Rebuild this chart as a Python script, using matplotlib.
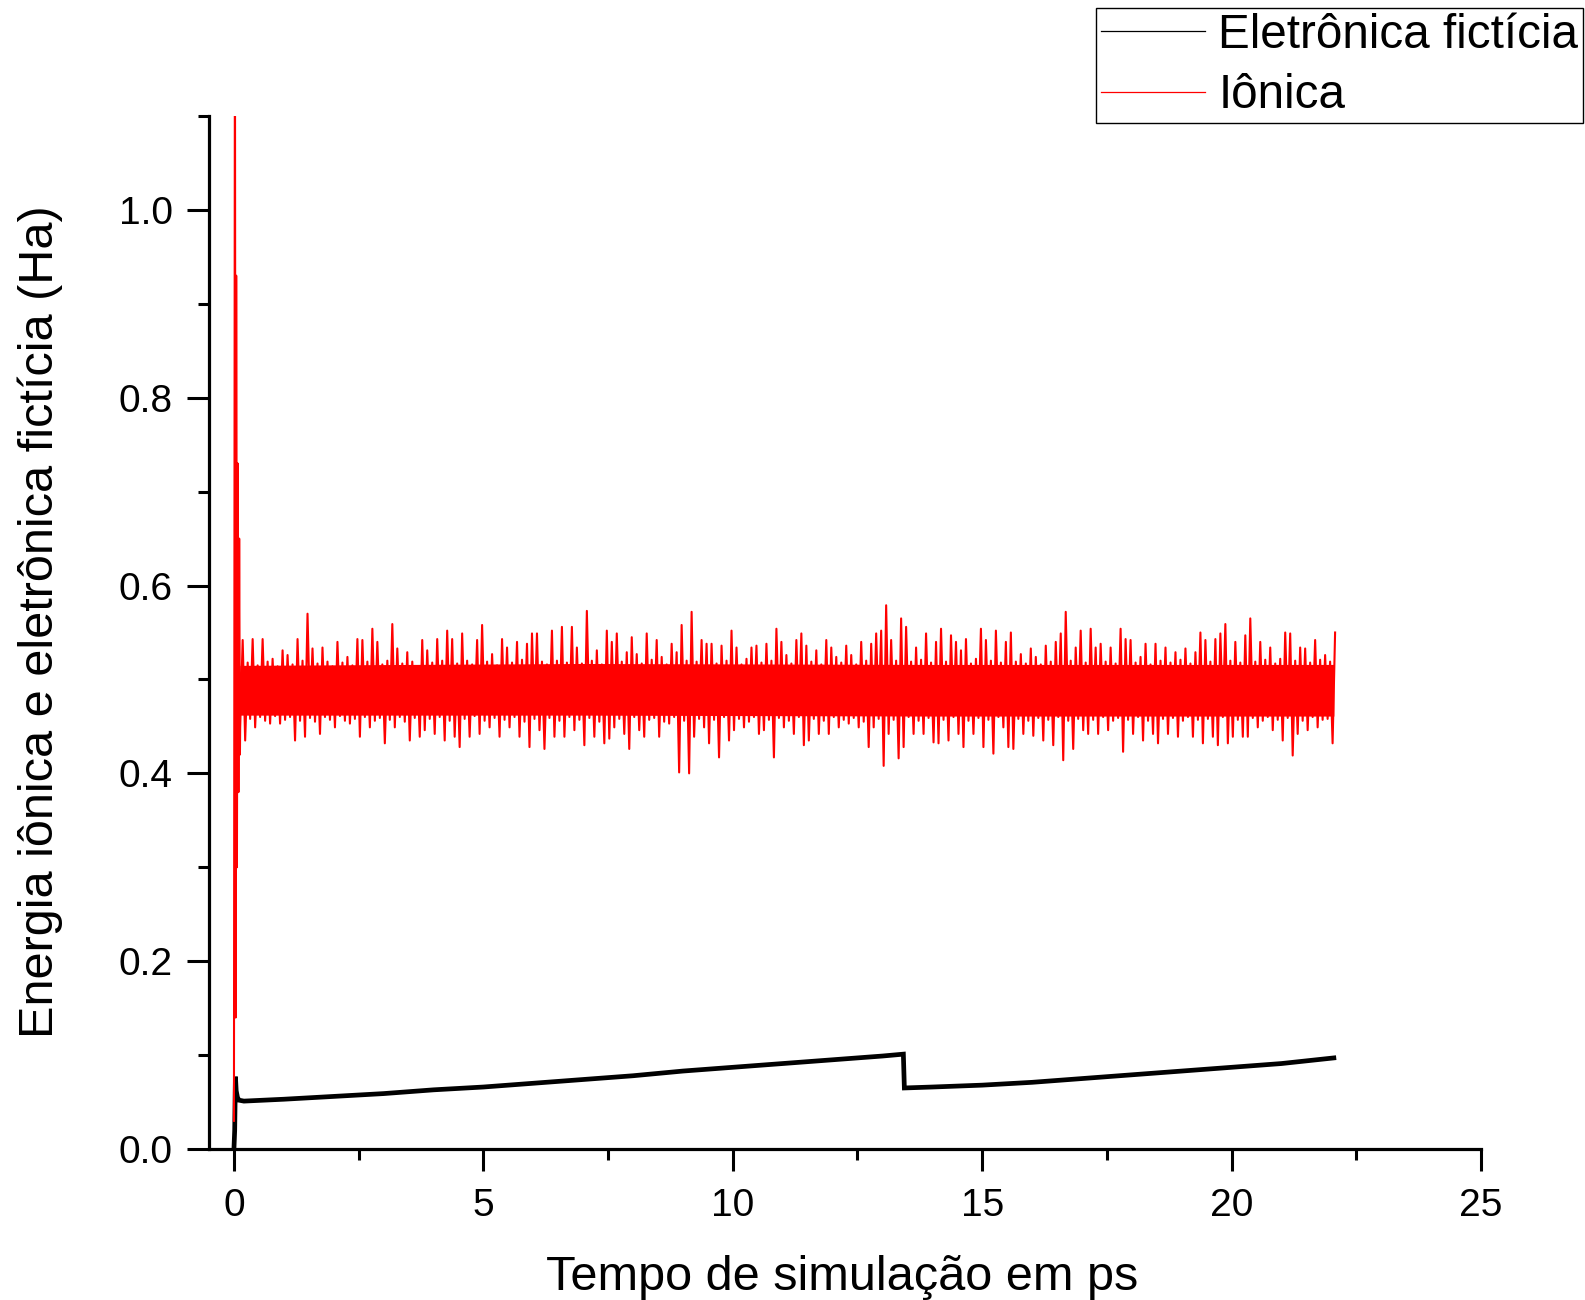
import numpy as np
import matplotlib
matplotlib.use("Agg")
import matplotlib.pyplot as plt
from matplotlib.ticker import MultipleLocator, FormatStrFormatter

# ---------------- data ----------------
# Electronic (fictitious) kinetic energy, key points (ps, Ha)
elec_t = [0.0, 0.015, 0.03, 0.045, 0.07, 0.1, 0.2, 1, 2, 3, 4, 5, 6, 7, 8, 9, 10,
          11, 12, 13, 13.42, 13.44, 14, 15, 16, 17, 18, 19, 20, 21, 22.05]
elec_e = [0.0, 0.02, 0.077, 0.062, 0.055, 0.052, 0.051, 0.053, 0.056, 0.059, 0.063,
          0.066, 0.070, 0.074, 0.078, 0.083, 0.087, 0.091, 0.095, 0.099, 0.101,
          0.065, 0.066, 0.068, 0.071, 0.075, 0.079, 0.083, 0.087, 0.091, 0.097]

# Ionic energy: initial transient
ion_start_t = [0.0, 0.02, 0.035, 0.045, 0.06, 0.075, 0.09, 0.105, 0.12]
ion_start_e = [0.03, 1.25, 0.14, 0.93, 0.30, 0.73, 0.38, 0.65, 0.42]

# Ionic energy: per 0.1 ps bin (from 0.15 ps to 22.05 ps), upper and lower excursions
ion_bin_start, ion_bin_step, ion_nbins = 0.15, 0.1, 220
ion_hi = [
    0.542, 0.518, 0.543, 0.515, 0.543, 0.519, 0.522, 0.514, 0.531, 0.526,
    0.516, 0.543, 0.520, 0.570, 0.533, 0.517, 0.534, 0.519, 0.514, 0.540,
    0.518, 0.524, 0.515, 0.543, 0.542, 0.519, 0.554, 0.540, 0.516, 0.520,
    0.559, 0.533, 0.517, 0.529, 0.519, 0.514, 0.542, 0.531, 0.518, 0.543,
    0.520, 0.552, 0.543, 0.517, 0.549, 0.520, 0.516, 0.542, 0.558, 0.519,
    0.527, 0.515, 0.543, 0.534, 0.518, 0.540, 0.521, 0.538, 0.549, 0.549,
    0.519, 0.516, 0.552, 0.520, 0.556, 0.518, 0.556, 0.534, 0.517, 0.573,
    0.520, 0.531, 0.516, 0.552, 0.540, 0.549, 0.519, 0.529, 0.545, 0.527,
    0.517, 0.549, 0.521, 0.542, 0.524, 0.516, 0.538, 0.529, 0.558, 0.520,
    0.572, 0.519, 0.542, 0.538, 0.538, 0.517, 0.536, 0.520, 0.552, 0.534,
    0.516, 0.522, 0.534, 0.536, 0.518, 0.538, 0.520, 0.554, 0.540, 0.526,
    0.517, 0.542, 0.549, 0.536, 0.519, 0.531, 0.516, 0.542, 0.534, 0.524,
    0.518, 0.536, 0.526, 0.516, 0.540, 0.520, 0.538, 0.549, 0.552, 0.579,
    0.542, 0.520, 0.565, 0.556, 0.519, 0.534, 0.521, 0.549, 0.518, 0.540,
    0.554, 0.519, 0.547, 0.540, 0.531, 0.543, 0.517, 0.522, 0.554, 0.542,
    0.520, 0.552, 0.518, 0.540, 0.550, 0.519, 0.527, 0.517, 0.533, 0.524,
    0.516, 0.536, 0.519, 0.540, 0.549, 0.572, 0.520, 0.534, 0.552, 0.518,
    0.554, 0.534, 0.538, 0.519, 0.534, 0.517, 0.554, 0.543, 0.542, 0.518,
    0.524, 0.538, 0.516, 0.538, 0.520, 0.534, 0.518, 0.529, 0.521, 0.533,
    0.517, 0.529, 0.550, 0.542, 0.519, 0.543, 0.549, 0.559, 0.520, 0.540,
    0.518, 0.547, 0.565, 0.519, 0.540, 0.521, 0.534, 0.517, 0.522, 0.550,
    0.549, 0.520, 0.534, 0.533, 0.518, 0.542, 0.521, 0.526, 0.519, 0.550,
]
ion_lo = [
    0.449, 0.435, 0.458, 0.449, 0.460, 0.456, 0.453, 0.461, 0.453, 0.457,
    0.460, 0.435, 0.456, 0.439, 0.459, 0.455, 0.442, 0.460, 0.457, 0.449,
    0.461, 0.456, 0.453, 0.458, 0.439, 0.460, 0.449, 0.456, 0.459, 0.432,
    0.457, 0.449, 0.460, 0.455, 0.435, 0.459, 0.439, 0.446, 0.458, 0.442,
    0.460, 0.435, 0.456, 0.439, 0.428, 0.458, 0.439, 0.461, 0.442, 0.456,
    0.449, 0.459, 0.439, 0.457, 0.449, 0.460, 0.439, 0.455, 0.428, 0.458,
    0.446, 0.426, 0.459, 0.439, 0.456, 0.439, 0.460, 0.446, 0.457, 0.430,
    0.459, 0.439, 0.455, 0.432, 0.437, 0.449, 0.458, 0.442, 0.426, 0.460,
    0.446, 0.439, 0.457, 0.459, 0.439, 0.455, 0.453, 0.460, 0.401, 0.456,
    0.400, 0.439, 0.458, 0.449, 0.432, 0.457, 0.417, 0.460, 0.435, 0.446,
    0.458, 0.449, 0.455, 0.460, 0.442, 0.446, 0.457, 0.417, 0.459, 0.449,
    0.456, 0.442, 0.460, 0.430, 0.435, 0.458, 0.442, 0.456, 0.442, 0.460,
    0.449, 0.457, 0.453, 0.459, 0.449, 0.455, 0.428, 0.449, 0.458, 0.408,
    0.442, 0.457, 0.416, 0.428, 0.460, 0.442, 0.456, 0.442, 0.459, 0.433,
    0.432, 0.457, 0.435, 0.460, 0.442, 0.428, 0.456, 0.442, 0.459, 0.428,
    0.457, 0.421, 0.460, 0.449, 0.428, 0.426, 0.458, 0.442, 0.456, 0.440,
    0.459, 0.435, 0.457, 0.430, 0.460, 0.414, 0.456, 0.426, 0.458, 0.446,
    0.442, 0.457, 0.442, 0.460, 0.446, 0.456, 0.459, 0.423, 0.457, 0.442,
    0.460, 0.435, 0.456, 0.442, 0.432, 0.458, 0.442, 0.459, 0.439, 0.456,
    0.460, 0.439, 0.457, 0.432, 0.458, 0.439, 0.430, 0.460, 0.432, 0.439,
    0.457, 0.439, 0.439, 0.459, 0.449, 0.456, 0.460, 0.446, 0.457, 0.435,
    0.459, 0.419, 0.442, 0.456, 0.446, 0.460, 0.449, 0.457, 0.458, 0.432,
]
# dense central part of the ionic band
ion_core_t = [0.12, 7.0, 14.0, 22.05]
ion_core_lo = [0.462, 0.462, 0.461, 0.461]
ion_core_hi = [0.515, 0.517, 0.516, 0.516]

labels = ["Eletrônica fictícia", "Iônica"]
xticks = [0, 5, 10, 15, 20, 25]
yticks = [0.0, 0.2, 0.4, 0.6, 0.8, 1.0]

# ---------------- build ionic trace ----------------
tb = ion_bin_start + ion_bin_step * np.arange(ion_nbins)
half = ion_bin_step / 4
zz_t = np.column_stack([tb - half, tb + half]).ravel()
zz_e = np.column_stack([ion_lo, ion_hi]).ravel()
ion_t = np.concatenate([ion_start_t, zz_t])
ion_e = np.concatenate([ion_start_e, zz_e])

# ---------------- figure ----------------
plt.rcParams['font.family'] = ['Liberation Sans', 'DejaVu Sans']
fig = plt.figure(figsize=(15.85, 13.0), dpi=100)
ax = fig.add_axes([209/1585, 1-1149/1300, (1481-209)/1585, (1149-116)/1300])

l1, = ax.plot(elec_t, elec_e, color='black', lw=3.4, solid_joinstyle='miter', label=labels[0])
ax.fill_between(ion_core_t, ion_core_lo, ion_core_hi, color='red', lw=0)
l2, = ax.plot(ion_t, ion_e, color='red', lw=1.5, label=labels[1])

ax.set_xlim(-0.5, 25)
ax.set_ylim(0, 1.1)
ax.set_xticks(xticks)
ax.set_yticks(yticks)
ax.xaxis.set_minor_locator(MultipleLocator(2.5))
ax.yaxis.set_minor_locator(MultipleLocator(0.1))
ax.yaxis.set_major_formatter(FormatStrFormatter('%.1f'))

for s in ['top', 'right']:
    ax.spines[s].set_visible(False)
for s in ['left', 'bottom']:
    ax.spines[s].set_linewidth(2.3)

ax.tick_params(which='major', direction='out', length=16, width=2.2, labelsize=28, pad=10)
ax.tick_params(which='minor', direction='out', length=8, width=2.2)
ax.tick_params(axis='x', which='major', pad=12)

ax.set_xlabel("Tempo de simulação em ps", fontsize=35)
ax.set_ylabel("Energia iônica e eletrônica fictícia (Ha)", fontsize=35)
ax.xaxis.set_label_coords(0.498, -0.103)
ax.yaxis.set_label_coords(-0.115, 0.51)

leg = fig.legend(handles=[l1, l2], labels=labels, loc='upper right',
                 bbox_to_anchor=(1583/1585, 1-8/1300), bbox_transform=fig.transFigure,
                 borderaxespad=0, fontsize=34.3, frameon=True, fancybox=False,
                 edgecolor='black', framealpha=1, handlelength=2.2, handletextpad=0.27,
                 borderpad=0.1, labelspacing=0.33)
leg.get_frame().set_linewidth(1.0)
for ln in leg.get_lines():
    ln.set_linewidth(0.9)

fig.savefig("out.png", dpi=100)
